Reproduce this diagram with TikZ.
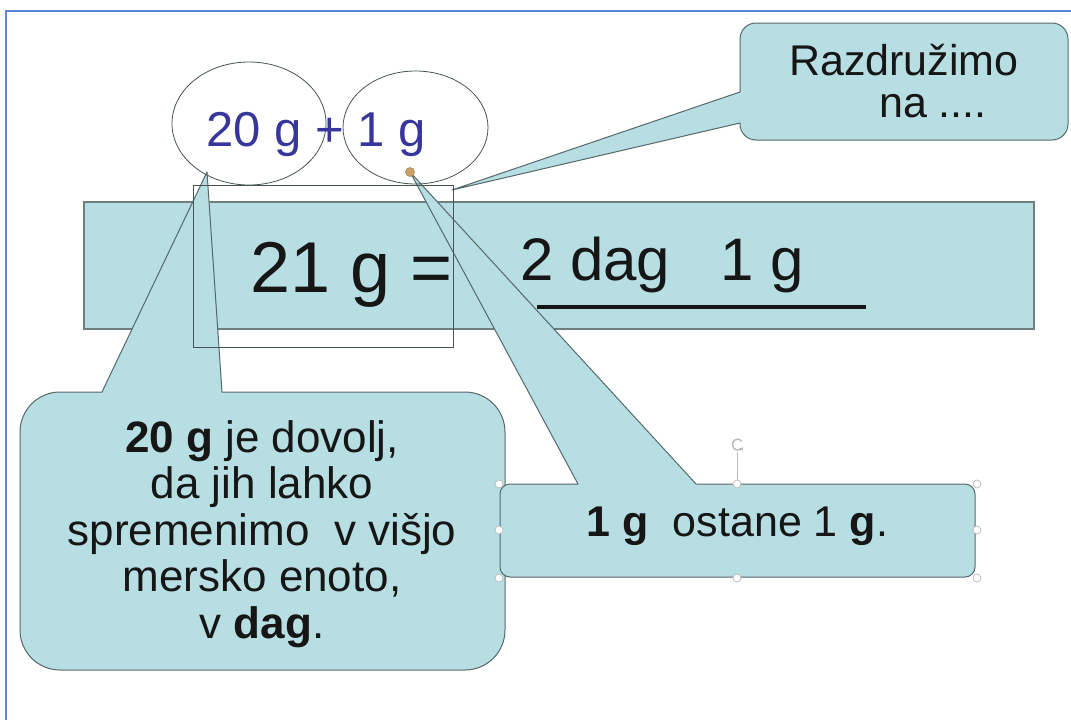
\documentclass[tikz,border=0pt]{standalone}
\usepackage{fontspec}
\setmainfont{Liberation Sans}
\usepackage{xcolor}
\definecolor{frame}{HTML}{5B87D6}
\definecolor{aqua}{HTML}{B7DEE2}
\definecolor{edge}{HTML}{56686A}
\definecolor{ink}{HTML}{161616}
\definecolor{sumblue}{HTML}{36369C}
\definecolor{pin}{HTML}{C9A066}
\usepackage{tikz}
\usetikzlibrary{arrows.meta,shapes.geometric}
\newcommand{\fs}[2]{\fontsize{#1}{#2}\selectfont}
\tikzset{
  >=Stealth,
  bar/.style={fill=aqua,draw=edge!85,line width=1.2pt,inner sep=0pt},
  callout/.style={fill=aqua,draw=edge,line width=1pt,line join=round},
  bubble/.style={ellipse,draw=edge!80!black,line width=0.8pt,inner sep=0pt},
  hint/.style={draw=edge!80!black,line width=0.9pt},
  handle/.style={circle,draw=gray!55,fill=white,line width=0.7pt,inner sep=0pt,minimum size=8pt},
  txt/.style={text=ink,inner sep=0pt},
}

\begin{document}
\begin{tikzpicture}[x=1pt,y=-1pt]
  \useasboundingbox (0,0) rectangle (1071,720);
  \draw[frame,line width=2pt] (6,720) -- (6,10.5) -- (1071,10.5);

  % the equation bar
  \node[bar,minimum width=950pt,minimum height=127pt] (bar) at (559,265.5) {};
  \node[txt,anchor=base,font=\fs{72}{80}] (lhs) at (352,292) {21 g =};
  \node[txt,anchor=base,font=\fs{60}{66}] (rhs) at (662,280) {2 dag~~~1 g};
  \coordinate (ulA) at (537,307);
  \coordinate (ulB) at (866,307);
  \draw[ink,line width=3.5pt] (ulA) -- (ulB);

  % tips of the callouts
  \coordinate (tipL) at (207,172);
  \coordinate (tipR) at (410,172);
  \coordinate (tipT) at (452,190);

  \draw[callout] (904,140) [rounded corners=16pt] -- (740,140)
    [sharp corners] -- (740,123) -- (tipT) -- (740,92)
    [rounded corners=16pt] -- (740,23) -- (1068,23) -- (1068,140) -- cycle;
  \node[txt,anchor=base,align=center,font=\fs{43}{42}] (split) at (904,117)
    {Razdružimo\\\hspace*{1.35em}na ....};

  \draw[callout] (260,670) [rounded corners=40pt] -- (20,670) -- (20,392)
    [sharp corners] -- (102,392) -- (tipL) -- (222,392)
    [rounded corners=40pt] -- (505,392) -- (505,670) -- cycle;
  \node[txt,anchor=north,align=center,font=\fs{44}{46.5}] (note20) at (262,420)
    {\textbf{20 g} je dovolj,\\da jih lahko\\spremenimo\ \ v višjo\\mersko enoto,\\v \textbf{dag}.};

  \draw[callout] (737,577) [rounded corners=10pt] -- (500,577) -- (500,484)
    [sharp corners] -- (578,484) -- (tipR) -- (696,484)
    [rounded corners=10pt] -- (975,484) -- (975,577) -- cycle;
  \node[txt,anchor=base,font=\fs{43}{48}] (note1) at (737.5,536)
    {\textbf{1 g}\ \ ostane 1 \textbf{g}.};

  % marked part of the equation
  \draw[hint] (193,185) rectangle (453,347);

  % 20 g + 1 g
  \node[bubble,minimum width=154pt,minimum height=123pt] (e20) at (249,123.5) {};
  \node[bubble,minimum width=145pt,minimum height=113pt] (e1) at (415.5,127.5) {};
  \node[anchor=base,text=sumblue,inner sep=0pt,font=\fs{49}{54}] (sum) at (316,146) {20 g + 1 g};
  \node[circle,fill=pin,draw=pin!80!black,line width=0.5pt,inner sep=0pt,minimum size=9pt] (dot) at (tipR) {};

  % selection handles
  \foreach \hx/\hy [count=\i] in {499/484,737/484,977/484,499/530,977/530,499/578,737/578,977/578}
    \node[handle] (h\i) at (\hx,\hy) {};
  \node[circle,inner sep=0pt,minimum size=14pt] (rot) at (737,445) {};
  \draw[gray!55,line width=0.7pt] (rot.south) -- (h2.north);
  \draw[gray!55,line width=1.4pt,-{Stealth[length=3pt,width=5pt]}] (742,441) arc[start angle=40,end angle=330,radius=5.5pt];
\end{tikzpicture}
\end{document}
